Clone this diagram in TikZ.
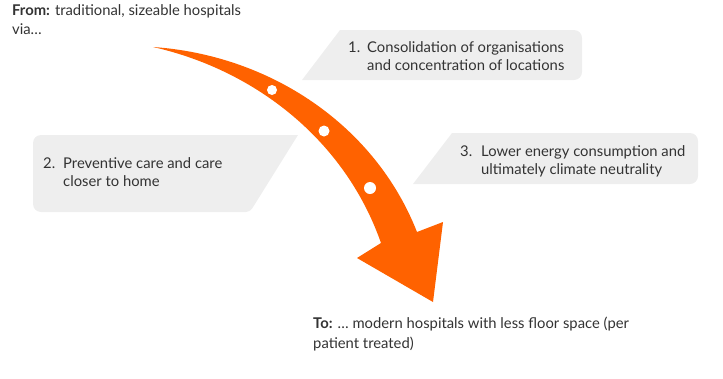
\documentclass[tikz,border=0pt]{standalone}
\usepackage{fontspec}
\setmainfont{Lato}
\definecolor{ingorange}{HTML}{FF6200}
\definecolor{boxgray}{HTML}{EEEEEE}
\definecolor{txt}{HTML}{333333}
\begin{document}
\begin{tikzpicture}[x=1pt,y=-1pt,
  lbl/.style={inner sep=0pt,text=txt,font=\fontsize{14.8}{18.5}\selectfont,align=left},
  box/.style={fill=boxgray},
  dot/.style={fill=white}]
\useasboundingbox (0,0) rectangle (723,378);
% boxes
\fill[box] (302,80) -- (340,30) {[rounded corners=8] -- (582,30) -- (582,80)} -- cycle;
\fill[box] (298,135) {[rounded corners=8] -- (33,135) -- (33,212)} {[rounded corners=4] -- (250,212)} -- cycle;
\fill[box] (413,184) -- (452,133) {[rounded corners=8] -- (698,133) -- (698,184)} -- cycle;
% arrow
\fill[ingorange] (153,47) .. controls (270,55) and (375,125) .. (417,232)
  -- (443,222) -- (433,302) -- (357,258) -- (381,243)
  .. controls (345,140) and (255,70) .. (153,47) -- cycle;
\fill[dot] (272,90) circle (5);
\fill[dot] (324,131) circle (5.5);
\fill[dot] (370,188) circle (6);
% texts
\node[lbl,anchor=base west] (from) at (12,15) {\textbf{From:} traditional, sizeable hospitals};
\node[lbl,anchor=base west] (fromb) at (12,34) {via\ldots};
\node[lbl,anchor=base west] (n1) at (348,52) {1.};
\node[lbl,anchor=base west] (t1) at (367,52) {Consolidation of organisations};
\node[lbl,anchor=base west] (t1b) at (367,70.5) {and concentration of locations};
\node[lbl,anchor=base west] (n2) at (43,168) {2.};
\node[lbl,anchor=base west] (t2) at (63,168) {Preventive care and care};
\node[lbl,anchor=base west] (t2b) at (63,186.5) {closer to home};
\node[lbl,anchor=base west] (n3) at (460,156) {3.};
\node[lbl,anchor=base west] (t3) at (481,156) {Lower energy consumption and};
\node[lbl,anchor=base west] (t3b) at (481,174.5) {ultimately climate neutrality};
\node[lbl,anchor=base west] (to) at (313,328) {\textbf{To:} \ldots\ modern hospitals with less floor space (per};
\node[lbl,anchor=base west] (tob) at (313,348) {patient treated)};
\end{tikzpicture}
\end{document}
